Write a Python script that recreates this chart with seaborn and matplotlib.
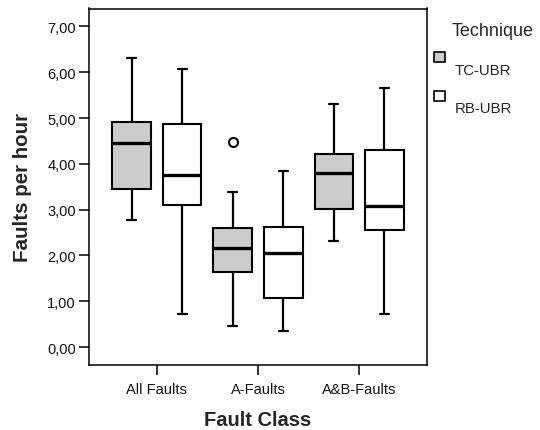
import numpy as np
import pandas as pd
import matplotlib
matplotlib.use("Agg")
import matplotlib.pyplot as plt
import seaborn as sns
from matplotlib.patches import Rectangle

# ---- data (five-number summaries) ----
categories = ["All Faults", "A-Faults", "A&B-Faults"]
techniques = ["TC-UBR", "RB-UBR"]

tc_whisker_low = [2.78, 0.46, 2.32]
tc_q1 = [3.44, 1.63, 3.01]
tc_median = [4.45, 2.16, 3.79]
tc_q3 = [4.92, 2.61, 4.22]
tc_whisker_high = [6.32, 3.38, 5.31]
tc_outliers = [[], [4.48], []]

rb_whisker_low = [0.72, 0.36, 0.72]
rb_q1 = [3.11, 1.07, 2.55]
rb_median = [3.76, 2.06, 3.09]
rb_q3 = [4.88, 2.62, 4.31]
rb_whisker_high = [6.08, 3.84, 5.65]
rb_outliers = [[], [], []]

y_ticks = [0, 1, 2, 3, 4, 5, 6, 7]
y_tick_labels = ["0,00", "1,00", "2,00", "3,00", "4,00", "5,00", "6,00", "7,00"]


def sample_from_summary(lo, q1, med, q3, hi, outs):
    # values whose linear quartiles reproduce the read summary
    if not outs:
        return [lo, q1, med, q3, hi]
    return [lo, q1, q1, med, med, q3, q3, hi] + list(outs)


rows = []
summ = {
    "TC-UBR": (tc_whisker_low, tc_q1, tc_median, tc_q3, tc_whisker_high, tc_outliers),
    "RB-UBR": (rb_whisker_low, rb_q1, rb_median, rb_q3, rb_whisker_high, rb_outliers),
}
for tech in techniques:
    lo, q1, md, q3, hi, outs = summ[tech]
    for i, cat in enumerate(categories):
        for v in sample_from_summary(lo[i], q1[i], md[i], q3[i], hi[i], outs[i]):
            rows.append({"Fault Class": cat, "Technique": tech, "value": v})
df = pd.DataFrame(rows)

# ---- plot ----
sns.set_style("white")
plt.rcParams["font.family"] = ["Liberation Sans", "DejaVu Sans"]

fig = plt.figure(figsize=(5.4, 4.31), dpi=100)
ax = fig.add_axes([89 / 540, 65 / 431, 338 / 540, 356.5 / 431])

palette = {"TC-UBR": "#cccccc", "RB-UBR": "#ffffff"}
sns.boxplot(
    data=df, x="Fault Class", y="value", hue="Technique",
    order=categories, hue_order=techniques, palette=palette,
    width=1.0, gap=0.24, linewidth=1.5, linecolor="black",
    whis=1.5, legend=False, ax=ax,
    boxprops=dict(edgecolor="black", linewidth=1.5),
    whiskerprops=dict(color="black", linewidth=1.6),
    capprops=dict(color="black", linewidth=1.6),
    medianprops=dict(color="black", linewidth=2.4),
    flierprops=dict(marker="o", markersize=6.5, markerfacecolor="white",
                    markeredgecolor="black", markeredgewidth=1.5),
)

# shorten caps
for ln in ax.lines:
    xd = np.asarray(ln.get_xdata(), dtype=float)
    yd = np.asarray(ln.get_ydata(), dtype=float)
    if len(xd) == 2 and yd[0] == yd[1]:
        length = abs(xd[1] - xd[0])
        if 0 < length < 0.3:
            c = xd.mean()
            ln.set_xdata([c - 0.045, c + 0.045])

ax.set_xlim(-0.67, 2.67)
ax.set_ylim(-0.39, 7.39)
ax.set_yticks(y_ticks)
ax.set_yticklabels(y_tick_labels)

for s in ax.spines.values():
    s.set_visible(True)
    s.set_color("black")
    s.set_linewidth(1.1)

ax.tick_params(axis="both", which="both", direction="out", length=7.5, width=1.1,
               color="black", labelsize=10.5, labelcolor="#111111", pad=2,
               left=True, bottom=True)
ax.tick_params(axis="x", pad=5)

ax.set_xlabel("Fault Class", fontsize=14.5, fontweight="bold", labelpad=10)
ax.set_ylabel("Faults per hour", fontsize=14.8, fontweight="bold", labelpad=11)

# legend drawn SPSS style (swatch above label)
fig.text(452 / 540, 1 - 32 / 431, "Technique", fontsize=13, va="center", ha="left")
legend_rows = [(58, 71), (97, 109)]
for tech, (sq_y, lab_y) in zip(techniques, legend_rows):
    fig.patches.append(Rectangle((434 / 540, 1 - (sq_y + 5) / 431), 11 / 540, 10 / 431,
                                 transform=fig.transFigure, facecolor=palette[tech],
                                 edgecolor="black", linewidth=1.2))
    fig.text(455 / 540, 1 - lab_y / 431, tech, fontsize=10.8, va="center", ha="left")

fig.savefig("out.png", dpi=100)
